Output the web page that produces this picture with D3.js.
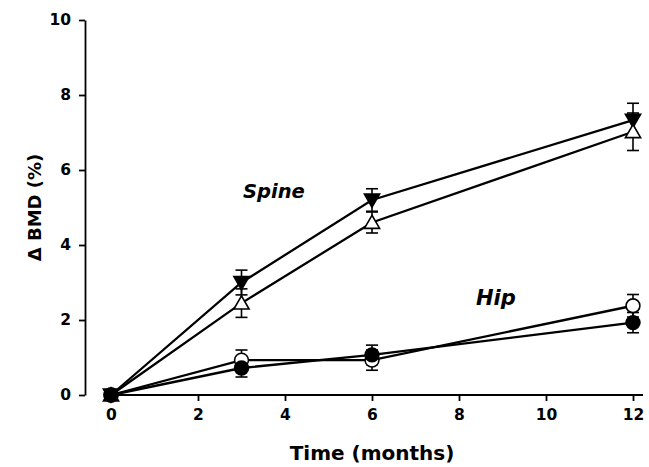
<!DOCTYPE html>
<html>
<head>
<meta charset="utf-8">
<script src="https://cdn.jsdelivr.net/npm/d3@7"></script>
<style>
  body { margin: 0; background: #fff; }
  text { font-family: "DejaVu Sans", sans-serif; font-weight: bold; fill: #000; }
</style>
</head>
<body>
<svg id="chart" width="649" height="467"></svg>
<script>
// months measured
var months = [0, 3, 6, 12];
var xTicks = [0, 2, 4, 6, 8, 10, 12];
var yTicks = [0, 2, 4, 6, 8, 10];

// Spine, filled down-triangle
var spineFilled = [0, 3.0, 5.2, 7.33];
var spineFilledErr = [0, 0.33, 0.3, 0.45];
// Spine, open up-triangle
var spineOpen = [0, 2.45, 4.6, 7.02];
var spineOpenErr = [0, 0.38, 0.28, 0.5];
// Hip, open circle
var hipOpen = [0, 0.93, 0.93, 2.38];
var hipOpenErr = [0, 0.27, 0.27, 0.3];
// Hip, filled circle
var hipFilled = [0, 0.72, 1.07, 1.93];
var hipFilledErr = [0, 0.24, 0.26, 0.27];

var svg = d3.select("#chart");

var x = d3.scaleLinear().domain([0, 12]).range([111, 633]);
var y = d3.scaleLinear().domain([0, 10]).range([395, 20]);

// y axis, set off to the left of the data
svg.append("g")
    .attr("transform", "translate(85,0)")
    .call(d3.axisLeft(y).tickValues(yTicks).tickSize(6).tickPadding(8).tickSizeOuter(0))
    .call(function(g) {
      g.select(".domain").attr("stroke-width", 1.8);
      g.selectAll(".tick line").attr("stroke-width", 1.8);
      g.selectAll(".tick text").style("font-size", "15.5px");
    });

// x axis
svg.append("g")
    .attr("transform", "translate(0,395)")
    .call(d3.axisBottom(x).tickValues(xTicks).tickSize(6).tickPadding(8).tickSizeOuter(0))
    .call(function(g) {
      g.select(".domain").attr("d", "M" + x(0) + ",0H643").attr("stroke-width", 1.8);
      g.selectAll(".tick line").attr("stroke-width", 1.8);
      g.selectAll(".tick text").style("font-size", "15.5px");
    });

svg.append("text")
    .attr("x", x(6))
    .attr("y", 460)
    .attr("text-anchor", "middle")
    .style("font-size", "20px")
    .text("Time (months)");

svg.append("text")
    .attr("transform", "translate(41," + y(5) + ") rotate(-90)")
    .attr("text-anchor", "middle")
    .style("font-size", "18px")
    .text("Δ BMD (%)");

var series = [
  {vals: spineFilled, err: spineFilledErr, shape: "down", fill: "#000"},
  {vals: spineOpen, err: spineOpenErr, shape: "up", fill: "#fff"},
  {vals: hipOpen, err: hipOpenErr, shape: "circle", fill: "#fff"},
  {vals: hipFilled, err: hipFilledErr, shape: "circle", fill: "#000"}
];

var line = d3.line()
    .x(function(d, i) { return x(months[i]); })
    .y(function(d) { return y(d); });

series.forEach(function(s) {
  svg.append("path")
      .attr("d", line(s.vals))
      .attr("fill", "none")
      .attr("stroke", "#000")
      .attr("stroke-width", 2.3);
});

// error bars
series.forEach(function(s) {
  var g = svg.append("g").attr("stroke", "#000").attr("stroke-width", 1.6);
  s.vals.forEach(function(v, i) {
    if (!s.err[i]) return;
    var cx = x(months[i]), y1 = y(v + s.err[i]), y2 = y(v - s.err[i]);
    g.append("line").attr("x1", cx).attr("x2", cx).attr("y1", y1).attr("y2", y2);
    g.append("line").attr("x1", cx - 6).attr("x2", cx + 6).attr("y1", y1).attr("y2", y1);
    g.append("line").attr("x1", cx - 6).attr("x2", cx + 6).attr("y1", y2).attr("y2", y2);
  });
});

// markers
var tri = d3.symbol().type(d3.symbolTriangle).size(100);
var circ = d3.symbol().type(d3.symbolCircle).size(150);
series.forEach(function(s) {
  s.vals.forEach(function(v, i) {
    var cx = x(months[i]), cy = y(v);
    var rot = s.shape === "down" ? " rotate(180)" : "";
    var dy = s.shape === "down" ? -1.5 : (s.shape === "up" ? 1.5 : 0);
    svg.append("path")
        .attr("d", s.shape === "circle" ? circ() : tri())
        .attr("transform", "translate(" + cx + "," + (cy + dy) + ")" + rot)
        .attr("fill", s.fill)
        .attr("stroke", "#000")
        .attr("stroke-width", 1.6);
  });
});

svg.append("text")
    .attr("x", 243)
    .attr("y", 198)
    .style("font-size", "19.5px")
    .style("font-style", "italic")
    .text("Spine");

svg.append("text")
    .attr("x", 476)
    .attr("y", 305)
    .style("font-size", "21px")
    .style("font-style", "italic")
    .text("Hip");
</script>
</body>
</html>
